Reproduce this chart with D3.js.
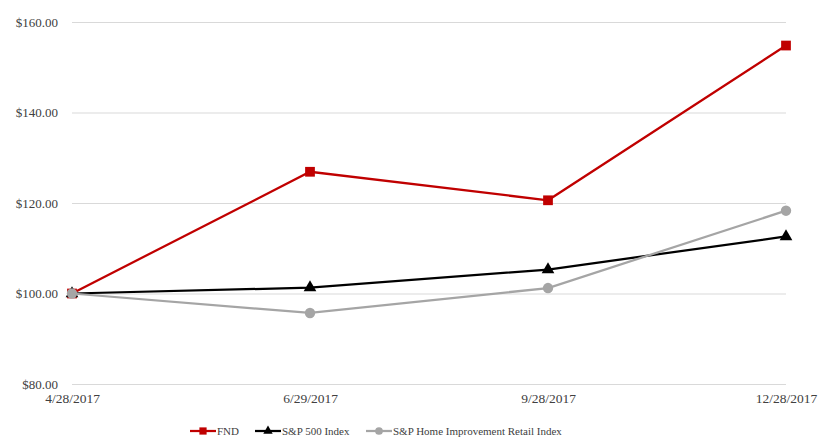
<!doctype html>
<html lang="en">
<head>
<meta charset="UTF-8">
<title>Total return</title>
<style>
  body { margin: 0; background: #fff; }
  text { font-family: "Liberation Serif", "DejaVu Serif", serif; fill: #404040; }
</style>
</head>
<body>
<div class="container"></div>
<script src="https://d3js.org/d3.v7.min.js"></script>
<script>
  const dates = ['4/28/2017', '6/29/2017', '9/28/2017', '12/28/2017'];
  const fnd = [100, 126.9, 120.6, 154.8];
  const sp500 = [100, 101.3, 105.3, 112.6];
  const homeImprovement = [100, 95.7, 101.2, 118.3];
  const yTicks = [80, 100, 120, 140, 160];

  const W = 819, H = 438;
  const LEFT = 72, RIGHT = 786, TOP = 22, BOTTOM = 384;

  const svg = d3.select('.container').append('svg')
    .attr('width', W).attr('height', H);

  const x = d3.scalePoint().domain(dates).range([LEFT, RIGHT]);
  const y = d3.scaleLinear().domain([80, 160]).range([BOTTOM, TOP]);

  // gridlines + y labels
  const yAxis = d3.axisLeft(y).tickValues(yTicks)
    .tickSize(-(RIGHT - LEFT)).tickPadding(14)
    .tickFormat(d => '$' + d3.format('.2f')(d));
  const yg = svg.append('g').attr('transform', `translate(${LEFT},0)`).call(yAxis);
  yg.select('.domain').remove();
  yg.selectAll('line').attr('stroke', '#d9d9d9').attr('stroke-width', 1);
  yg.selectAll('text').style('font-size', '13px').attr('fill', '#404040');

  const xAxis = d3.axisBottom(x).tickSize(0).tickPadding(9);
  const xg = svg.append('g').attr('transform', `translate(0,${BOTTOM})`).call(xAxis);
  xg.select('.domain').remove();
  xg.selectAll('text').style('font-size', '13.5px').attr('fill', '#404040');

  const series = [
    { name: 'FND', values: fnd, color: '#c00000', marker: d3.symbolSquare, size: 95 },
    { name: 'S&P 500 Index', values: sp500, color: '#000000', marker: d3.symbolTriangle, size: 70 },
    { name: 'S&P Home Improvement Retail Index', values: homeImprovement, color: '#a5a5a5', marker: d3.symbolCircle, size: 85 }
  ];

  const line = d3.line().x((d, i) => x(dates[i])).y(d => y(d));

  series.forEach(s => {
    svg.append('path')
      .attr('d', line(s.values))
      .attr('fill', 'none')
      .attr('stroke', s.color)
      .attr('stroke-width', 2.25);
    svg.selectAll(null).data(s.values).enter().append('path')
      .attr('d', d3.symbol().type(s.marker).size(s.size))
      .attr('transform', (d, i) => `translate(${x(dates[i])},${y(d)})`)
      .attr('fill', s.color);
  });

  // legend
  const legendX = [190, 255, 366];
  series.forEach((s, i) => {
    const g = svg.append('g').attr('transform', `translate(${legendX[i]},431)`);
    g.append('line').attr('x1', 0).attr('x2', 26).attr('y1', 0).attr('y2', 0)
      .attr('stroke', s.color).attr('stroke-width', 2.25);
    g.append('path').attr('d', d3.symbol().type(s.marker).size(s.size * 0.55))
      .attr('transform', 'translate(13,0)').attr('fill', s.color);
    g.append('text').attr('x', 27).attr('y', 4).style('font-size', '11px').text(s.name);
  });
</script>
</body>
</html>
